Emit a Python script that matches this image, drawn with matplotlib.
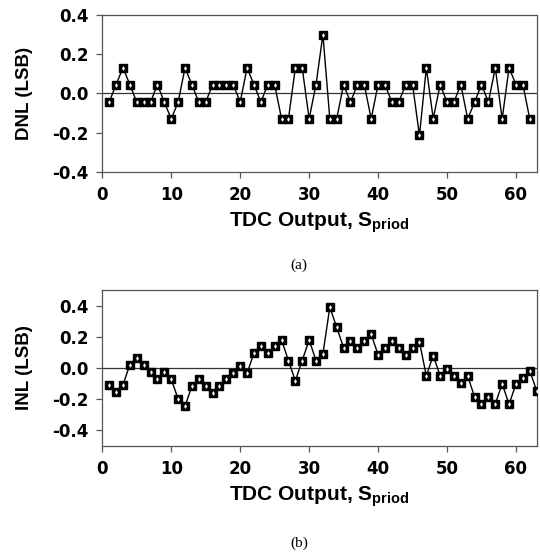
import matplotlib
matplotlib.use("Agg")
import matplotlib.pyplot as plt

plt.rcParams['font.family'] = ['Liberation Sans', 'DejaVu Sans']
plt.rcParams['mathtext.fontset'] = 'custom'
plt.rcParams['mathtext.bf'] = 'Liberation Sans:bold'
plt.rcParams['mathtext.rm'] = 'Liberation Sans:bold'
plt.rcParams['axes.unicode_minus'] = False

# DNL per code (panel a)
dnl_x = list(range(1, 63))
dnl = [-0.045, 0.045, 0.13, 0.045, -0.045, -0.045, -0.045, 0.045, -0.045, -0.13,
       -0.045, 0.13, 0.045, -0.045, -0.045, 0.045, 0.045, 0.045, 0.045, -0.045,
       0.13, 0.045, -0.045, 0.045, 0.045, -0.13, -0.13, 0.13, 0.13, -0.13,
       0.045, 0.30, -0.13, -0.13, 0.045, -0.045, 0.045, 0.045, -0.13, 0.045,
       0.045, -0.045, -0.045, 0.045, 0.045, -0.215, 0.13, -0.13, 0.045, -0.045,
       -0.045, 0.045, -0.13, -0.045, 0.045, -0.045, 0.13, -0.13, 0.13, 0.045,
       0.045, -0.13]

# INL per code (panel b)
inl_x = list(range(1, 64))
inl = [-0.11, -0.153, -0.11, 0.021, 0.064, 0.019, -0.026, -0.072, -0.026, -0.072,
       -0.20, -0.247, -0.117, -0.072, -0.117, -0.164, -0.119, -0.074, -0.032, 0.015,
       -0.034, 0.094, 0.138, 0.094, 0.138, 0.179, 0.047, -0.083, 0.047, 0.179,
       0.047, 0.089, 0.39, 0.26, 0.13, 0.172, 0.13, 0.172, 0.215, 0.085,
       0.128, 0.172, 0.128, 0.085, 0.128, 0.166, -0.051, 0.079, -0.051, -0.009,
       -0.053, -0.098, -0.053, -0.187, -0.232, -0.187, -0.232, -0.102, -0.234, -0.104,
       -0.062, -0.017, -0.147]

x_ticks = [0, 10, 20, 30, 40, 50, 60]
xlabel = r"TDC Output, $\mathbf{S_{priod}}$"

fig = plt.figure(figsize=(5.4, 5.54), dpi=100)
ax1 = fig.add_axes([0.1894, 0.690, 0.8044, 0.2829])
ax2 = fig.add_axes([0.1894, 0.1955, 0.8044, 0.281])


def draw(ax, x, y, ylabel, ylim, yticks):
    ax.axhline(0, color='#333333', lw=0.9, zorder=1)
    ax.plot(x, y, color='black', lw=1.0, marker='s', ms=5.2,
            mfc='black', mec='black', zorder=3)
    # small white glyph inside each square
    ax.plot(x, y, ls='none', marker='d', ms=2.0, mfc='white', mec='white',
            mew=0.3, zorder=4)
    ax.set_xlim(0, 63)
    ax.set_ylim(*ylim)
    ax.set_xticks(x_ticks)
    ax.set_yticks(yticks)
    ax.set_yticklabels([f"{v:.1f}" for v in yticks])
    ax.tick_params(direction='out', length=4, width=0.9, color='#555555',
                   top=False, right=False, pad=6)
    for lab in ax.get_xticklabels() + ax.get_yticklabels():
        lab.set_fontweight('bold')
        lab.set_family('DejaVu Sans')
        lab.set_fontsize(12)
    for sp in ax.spines.values():
        sp.set_color('#555555')
        sp.set_linewidth(0.9)
    ax.set_ylabel(ylabel, fontsize=13.5, fontweight='bold', labelpad=14)
    ax.set_xlabel(xlabel, fontsize=15, fontweight='bold', labelpad=5)


draw(ax1, dnl_x, dnl, "DNL (LSB)", (-0.4, 0.4), [-0.4, -0.2, 0.0, 0.2, 0.4])
draw(ax2, inl_x, inl, "INL (LSB)", (-0.5, 0.5), [-0.4, -0.2, 0.0, 0.2, 0.4])

fig.text(0.5537, 1 - 265 / 554, "(a)", ha='center', va='center',
         family='Liberation Serif', fontsize=11)
fig.text(0.5537, 1 - 543 / 554, "(b)", ha='center', va='center',
         family='Liberation Serif', fontsize=11)

fig.savefig("out.png", dpi=100)
